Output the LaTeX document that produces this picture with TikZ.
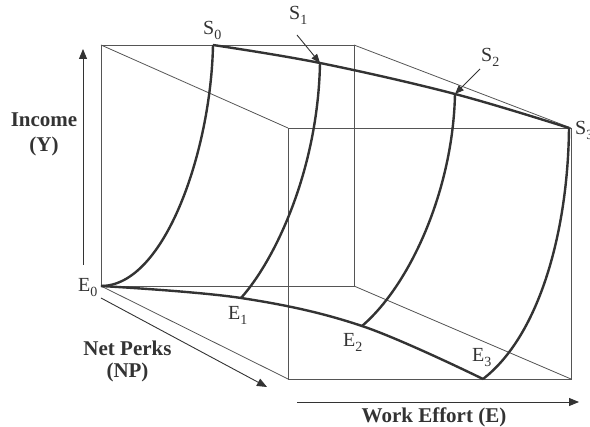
\documentclass[tikz,border=0pt]{standalone}
\usepackage{fontspec}
\setmainfont{Liberation Serif}
\usetikzlibrary{arrows.meta}
\definecolor{ink}{HTML}{333333}
\definecolor{thin}{HTML}{555555}
\newcommand\lbl[2]{#1\raisebox{-5pt}{\fontsize{14}{14}\selectfont #2}}
\tikzset{
  cube/.style={draw=thin, line width=0.8pt},
  curve/.style={draw=ink, line width=2.4pt},
  axis/.style={draw=ink, line width=0.9pt, -{Triangle[length=10pt,width=8pt]}},
  pointer/.style={draw=ink, line width=0.9pt, -{Triangle[length=9pt,width=7pt]}},
  ptlabel/.style={inner sep=0pt, anchor=base west, text=ink, font=\fontsize{20}{20}\selectfont},
  axlabel/.style={inner sep=0pt, anchor=base, text=ink, font=\fontsize{21}{21}\selectfont\bfseries}
}
\begin{document}
\begin{tikzpicture}[x=1pt,y=-1pt]
\useasboundingbox (0,0) rectangle (590,427);
% cube corners
\coordinate (btl) at (101,45);
\coordinate (btr) at (354,45);
\coordinate (bbl) at (101,286);
\coordinate (bbr) at (354,286);
\coordinate (ftl) at (288,128);
\coordinate (ftr) at (571,128);
\coordinate (fbl) at (288,379);
\coordinate (fbr) at (571,379);
\draw[cube] (btl) -- (btr) -- (bbr) -- (bbl) -- cycle;
\draw[cube] (ftl) -- (ftr) -- (fbr) -- (fbl) -- cycle;
\draw[cube] (btl) -- (ftl);
\draw[cube] (btr) -- (ftr);
\draw[cube] (bbl) -- (fbl);
\draw[cube] (bbr) -- (fbr);
% points
\coordinate (S0) at (213,45);
\coordinate (S1) at (320,63);
\coordinate (S2) at (455,94);
\coordinate (S3) at (569,128);
\coordinate (E0) at (101,286);
\coordinate (E1) at (241,298);
\coordinate (E2) at (362,326);
\coordinate (E3) at (483,379);
% curves
\draw[curve] plot[smooth, tension=0.6] coordinates {(S0) (S1) (S2) (S3)};
\draw[curve] plot[smooth, tension=0.6] coordinates {(E0) (E1) (E2) (E3)};
\draw[curve] (S0) .. controls (211,150) and (165,286) .. (E0);
\draw[curve] (S1) .. controls (318,170) and (275,260) .. (E1);
\draw[curve] (S2) .. controls (453,190) and (410,285) .. (E2);
\draw[curve] (S3) .. controls (568,230) and (540,335) .. (E3);
% axes
\coordinate (ya) at (83,265);
\coordinate (yb) at (83,49);
\coordinate (npa) at (101,298);
\coordinate (npb) at (267,387);
\coordinate (wa) at (297,402);
\coordinate (wb) at (579,402);
\draw[axis] (ya) -- (yb);
\draw[axis] (npa) -- (npb);
\draw[axis] (wa) -- (wb);
% labels
\node[ptlabel] (lS0) at (203,35) {\lbl{S}{0}};
\node[ptlabel] (lS1) at (289,20) {\lbl{S}{1}};
\node[ptlabel] (lS2) at (481,62) {\lbl{S}{2}};
\node[ptlabel] (lS3) at (575,135) {\lbl{S}{3}};
\node[ptlabel] (lE0) at (78,292) {\lbl{E}{0}};
\node[ptlabel] (lE1) at (228,320) {\lbl{E}{1}};
\node[ptlabel] (lE2) at (343,347) {\lbl{E}{2}};
\node[ptlabel] (lE3) at (472,362) {\lbl{E}{3}};
\coordinate (p1a) at (297,35);
\coordinate (p2a) at (480,69);
\draw[pointer] (p1a) -- (S1);
\draw[pointer] (p2a) -- (S2);
\node[axlabel] (inc) at (44,127) {Income};
\node[axlabel] (incy) at (44,152) {(Y)};
\node[axlabel] (np) at (127.5,356) {Net Perks};
\node[axlabel] (npp) at (127.5,378) {(NP)};
\node[axlabel] (we) at (434,423) {Work Effort (E)};
\end{tikzpicture}
\end{document}
